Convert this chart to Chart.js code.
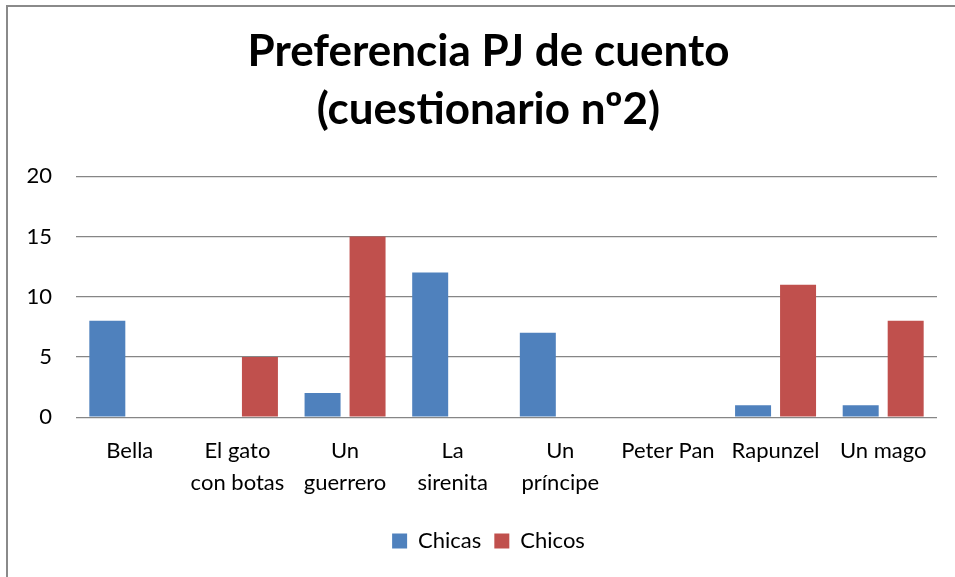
<!DOCTYPE html>
<html>
<head>
<meta charset="utf-8">
<script src="https://cdn.jsdelivr.net/npm/chart.js@4.4.0/dist/chart.umd.min.js"></script>
<style>
  html, body { margin: 0; padding: 0; background: #fff; }
  #wrap { position: relative; width: 955px; height: 577px; overflow: hidden; }
  #marco { position: absolute; left: 6px; top: 5px; width: 1000px; height: 1000px;
           border-left: 2px solid #8a8a8a; border-top: 2px solid #8a8a8a; }
  canvas { position: absolute; left: 0; top: 0; }
</style>
</head>
<body>
<div id="wrap">
  <div id="marco"></div>
  <canvas id="grafico" width="955" height="577"></canvas>
</div>
<script>
// datos
const personajes = [
    'Bella',
    ['El gato', 'con botas'],
    ['Un', 'guerrero'],
    ['La', 'sirenita'],
    ['Un', 'príncipe'],
    'Peter Pan',
    'Rapunzel',
    'Un mago'
];
const chicas = [8, 0, 2, 12, 7, 0, 1, 1];
const chicos = [0, 5, 15, 0, 0, 0, 11, 8];
const ticksY = [0, 5, 10, 15, 20];

const fuente = 'Lato, "Liberation Sans", sans-serif';

// el título y la leyenda van un poco a la derecha: se deja margen a la
// izquierda y luego se ensancha el eje Y para que sus etiquetas no se recorten
const ejeAncho = {
    id: 'ejeAncho',
    afterLayout(chart) {
        chart.scales.y.left = 0;
    }
};

document.addEventListener('DOMContentLoaded', function() {
    const ctx = document.getElementById('grafico');

    new Chart(ctx, {
        type: 'bar',
        data: {
            labels: personajes,
            datasets: [
                {
                    label: 'Chicas',
                    data: chicas,
                    backgroundColor: '#4F81BD',
                    categoryPercentage: 0.836,
                    barPercentage: 0.8
                },
                {
                    label: 'Chicos',
                    data: chicos,
                    backgroundColor: '#C0504D',
                    categoryPercentage: 0.836,
                    barPercentage: 0.8
                }
            ]
        },
        plugins: [ejeAncho],
        options: {
            responsive: false,
            animation: false,
            layout: {
                padding: { left: 40, right: 18, top: 23, bottom: 15 }
            },
            plugins: {
                title: {
                    display: true,
                    text: ['Preferencia PJ de cuento', '(cuestionario nº2)'],
                    color: '#000',
                    font: { family: fuente, size: 44, weight: 'bold', lineHeight: 1.32 },
                    padding: { top: 0, bottom: 37 }
                },
                legend: {
                    position: 'bottom',
                    labels: {
                        color: '#000',
                        font: { family: fuente, size: 22 },
                        boxWidth: 15,
                        boxHeight: 15,
                        padding: 13
                    }
                },
                tooltip: { enabled: false }
            },
            scales: {
                y: {
                    min: 0,
                    max: 20,
                    afterBuildTicks: function(axis) {
                        axis.ticks = ticksY.map(v => ({ value: v }));
                    },
                    // ancho fijo para que el área empiece en x=76
                    afterFit: function(axis) {
                        axis.width = 36;
                    },
                    ticks: {
                        color: '#000',
                        padding: 24,
                        font: { family: fuente, size: 22 }
                    },
                    grid: {
                        color: '#868686',
                        lineWidth: 1.3,
                        drawTicks: false
                    },
                    border: { display: false }
                },
                x: {
                    ticks: {
                        color: '#000',
                        padding: 18,
                        maxRotation: 0,
                        autoSkip: false,
                        font: { family: fuente, size: 22, lineHeight: 1.45 }
                    },
                    grid: { display: false, drawTicks: false },
                    border: { display: false }
                }
            }
        }
    });
});
</script>
</body>
</html>
